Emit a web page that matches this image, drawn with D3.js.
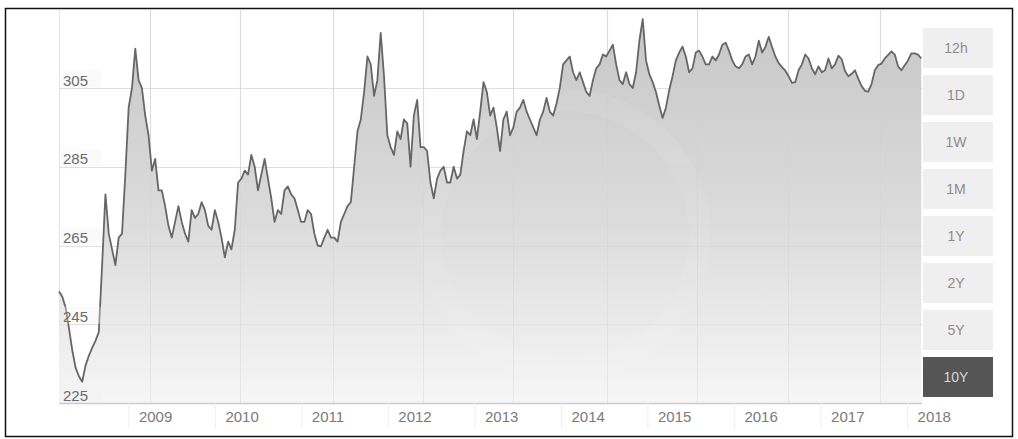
<!DOCTYPE html>
<html>
<head>
<meta charset="utf-8">
<script src="https://cdn.jsdelivr.net/npm/d3@7"></script>
<style>
  html, body { margin: 0; padding: 0; background: #fff; }
  svg { display: block; font-family: "Liberation Sans", Arial, sans-serif; }
</style>
</head>
<body>
<svg id="chart" width="1018" height="439"></svg>
<script>
// ---------- data ----------
const startDate = "2008-03-14";   // first sample
const stepDays = 14;              // one sample every two weeks
const values = [
  253.3, 252, 249.2, 244, 238.4, 234, 231.8, 230.4, 234.5, 237,
  239, 240.8, 243, 260, 278, 268, 264, 260, 267, 268,
  283, 300, 305, 315, 307, 305, 298, 293, 284, 287,
  279, 279, 275, 270, 267, 271, 275, 271, 268, 266,
  274, 272, 273, 276, 274, 270, 269, 274, 271, 267,
  262, 266, 264, 269, 281, 282, 284, 283, 288, 285,
  279, 283, 287, 282, 277, 271, 274, 273, 279, 280,
  278, 277, 274, 271, 271, 274, 273, 268, 265, 264.8,
  267, 269, 267, 267, 266, 271, 273, 275, 276, 285,
  294, 297, 304, 313, 311, 303, 307, 319, 308, 293,
  290, 288, 294, 292, 297, 296, 285, 298, 302, 290,
  290, 289, 281, 277, 282, 284, 285, 281, 281, 285,
  282, 283, 289, 294, 293, 297, 292, 299, 306.5, 304,
  298, 300, 295, 289, 297, 299, 293, 295, 299, 300,
  302, 299, 297, 295, 293, 297, 299, 302.5, 299, 298,
  301, 305, 311, 312, 313, 309, 307, 309, 306.5, 304,
  303, 307, 310, 311, 313.5, 313, 314.5, 316, 311, 307,
  306, 309, 306, 305, 309, 317, 322.5, 312, 308.5, 306.5,
  304, 300.5, 297.4, 300, 304.5, 308, 312, 314, 315.5, 313,
  309, 310, 314, 314.5, 313, 311, 311, 313, 312, 313.5,
  316, 316.5, 314.5, 312, 310.5, 310, 311, 313, 313.5, 311,
  313, 317, 314, 315.4, 318, 315.4, 313, 311.3, 310.3, 309.4,
  308, 306.3, 306.5, 309.5, 311, 313.5, 312.5, 310, 308.5, 310.5,
  309, 309.5, 312.5, 310, 311, 313.2, 312.3, 309.3, 308, 308.6,
  309.5, 307.4, 305.5, 304.3, 304.1, 306, 309.5, 310.8, 311.2, 312.5,
  313.4, 314.3, 313.5, 310.5, 309.5, 310.8, 312, 313.8, 313.8, 313.5,
  312.5
];
const xDomain = ["2008-03-14", "2018-03-05"];
const yTicks = [225, 245, 265, 285, 305];
const yearLabels = ["2009", "2010", "2011", "2012", "2013", "2014", "2015", "2016", "2017", "2018"];
const vGridDates = ["2009-04-02", "2010-04-17", "2011-05-15", "2012-05-28", "2013-06-12",
                    "2014-07-13", "2015-07-28", "2016-08-15", "2017-09-08"];
const buttonLabels = ["12h", "1D", "1W", "1M", "1Y", "2Y", "5Y", "10Y"];
const activeButton = "10Y";

// ---------- build ----------
const parse = d3.utcParse("%Y-%m-%d");
const t0 = parse(startDate);
const series = values.map((v, i) => ({ date: d3.utcDay.offset(t0, i * stepDays), value: v }));

const svg = d3.select("#chart");
const W = 1018, H = 439;
const plot = { left: 59, right: 922, top: 10, bottom: 403 };

const x = d3.scaleUtc().domain(xDomain.map(parse)).range([plot.left, plot.right]);
const y = d3.scaleLinear().domain([225, 305]).range([plot.bottom, 88]);

// outer frame
svg.append("rect").attr("x", 5.5).attr("y", 8.5).attr("width", W - 11).attr("height", H - 11)
  .attr("fill", "#fff").attr("stroke", "#111").attr("stroke-width", 1.5);

// gradient for area
const defs = svg.append("defs");
const grad = defs.append("linearGradient").attr("id", "areaGrad")
  .attr("gradientUnits", "userSpaceOnUse").attr("x1", 0).attr("x2", 0)
  .attr("y1", plot.top).attr("y2", plot.bottom);
grad.append("stop").attr("offset", "0%").attr("stop-color", "#c6c6c6");
grad.append("stop").attr("offset", "55%").attr("stop-color", "#dcdcdc");
grad.append("stop").attr("offset", "100%").attr("stop-color", "#f6f6f6");

// horizontal grid
svg.append("g").selectAll("line").data(yTicks).join("line")
  .attr("x1", plot.left).attr("x2", plot.right)
  .attr("y1", d => Math.round(y(d)) + 0.5).attr("y2", d => Math.round(y(d)) + 0.5)
  .attr("stroke", "#e6e6e6").attr("stroke-width", 1);

// vertical grid
svg.append("g").selectAll("line").data([xDomain[0]].concat(vGridDates)).join("line")
  .attr("x1", d => Math.round(x(parse(d))) + 0.5).attr("x2", d => Math.round(x(parse(d))) + 0.5)
  .attr("y1", plot.top).attr("y2", plot.bottom)
  .attr("stroke", "#e4e4e4").attr("stroke-width", 1.2);

// area + line
const area = d3.area().x(d => x(d.date)).y0(plot.bottom).y1(d => y(d.value));
const line = d3.line().x(d => x(d.date)).y(d => y(d.value));
svg.append("path").datum(series).attr("d", area).attr("fill", "url(#areaGrad)");

// very faint watermark ring
svg.append("circle").attr("cx", 565).attr("cy", 235).attr("r", 135)
  .attr("fill", "none").attr("stroke", "#ffffff").attr("stroke-opacity", 0.07).attr("stroke-width", 22);

// grid seen through the area (faint)
svg.append("g").selectAll("line").data(vGridDates).join("line")
  .attr("x1", d => Math.round(x(parse(d))) + 0.5).attr("x2", d => Math.round(x(parse(d))) + 0.5)
  .attr("y1", plot.top).attr("y2", plot.bottom)
  .attr("stroke", "#cfcfcf").attr("stroke-opacity", 0.35).attr("stroke-width", 1);
svg.append("g").selectAll("line").data(yTicks).join("line")
  .attr("x1", plot.left).attr("x2", plot.right)
  .attr("y1", d => Math.round(y(d)) + 0.5).attr("y2", d => Math.round(y(d)) + 0.5)
  .attr("stroke", "#d0d0d0").attr("stroke-opacity", 0.3);

svg.append("path").datum(series).attr("d", line)
  .attr("fill", "none").attr("stroke", "#666666").attr("stroke-width", 1.8)
  .attr("stroke-linejoin", "round");

// x axis
const xAxis = d3.axisBottom(x)
  .tickValues(yearLabels.map(yr => parse(yr + "-01-01")))
  .tickFormat((d, i) => yearLabels[i])
  .tickSize(25).tickSizeOuter(0);
const gx = svg.append("g").attr("transform", `translate(0,${plot.bottom})`).call(xAxis);
gx.select(".domain").attr("stroke", "#cccccc").attr("stroke-width", 1.5)
  .attr("d", `M${plot.left},0.5H${plot.right}`);
gx.selectAll(".tick line").attr("stroke", "#e6e6e6").attr("stroke-dasharray", "2,1");
gx.selectAll(".tick text").attr("text-anchor", "start").attr("x", 10).attr("y", 19).attr("dy", 0)
  .attr("fill", "#7a7a7a").attr("font-size", 15).attr("font-family", "Liberation Sans, Arial, sans-serif");

// y labels
const yAxis = d3.axisLeft(y).tickValues(yTicks).tickSize(0).tickFormat(d3.format("d"));
const gy = svg.append("g").attr("transform", `translate(${plot.left},0)`).call(yAxis);
gy.select(".domain").remove();
gy.selectAll(".tick").insert("rect", "text")
  .attr("x", 2).attr("y", -18).attr("width", 40).attr("height", 17)
  .attr("fill", "#f2f2f2").attr("fill-opacity", 0.35);
gy.selectAll(".tick text").attr("text-anchor", "start").attr("x", 4).attr("y", -3).attr("dy", 0)
  .attr("fill", "#6a6a6a").attr("font-size", 15).attr("font-family", "Liberation Sans, Arial, sans-serif");

// range buttons
const by = d3.scaleBand().domain(buttonLabels).range([28, 397]).paddingInner(7 / 47).paddingOuter(0);
const btn = svg.append("g").selectAll("g").data(buttonLabels).join("g")
  .attr("transform", d => `translate(923,${by(d)})`);
btn.append("rect").attr("width", 70).attr("height", by.bandwidth())
  .attr("fill", d => d === activeButton ? "#555555" : "#efefef");
btn.append("text").attr("x", 33).attr("y", by.bandwidth() / 2 + 5)
  .attr("text-anchor", "middle").attr("font-size", 14)
  .attr("fill", d => d === activeButton ? "#d8d8d8" : "#8c8c8c")
  .text(d => d);
</script>
</body>
</html>
